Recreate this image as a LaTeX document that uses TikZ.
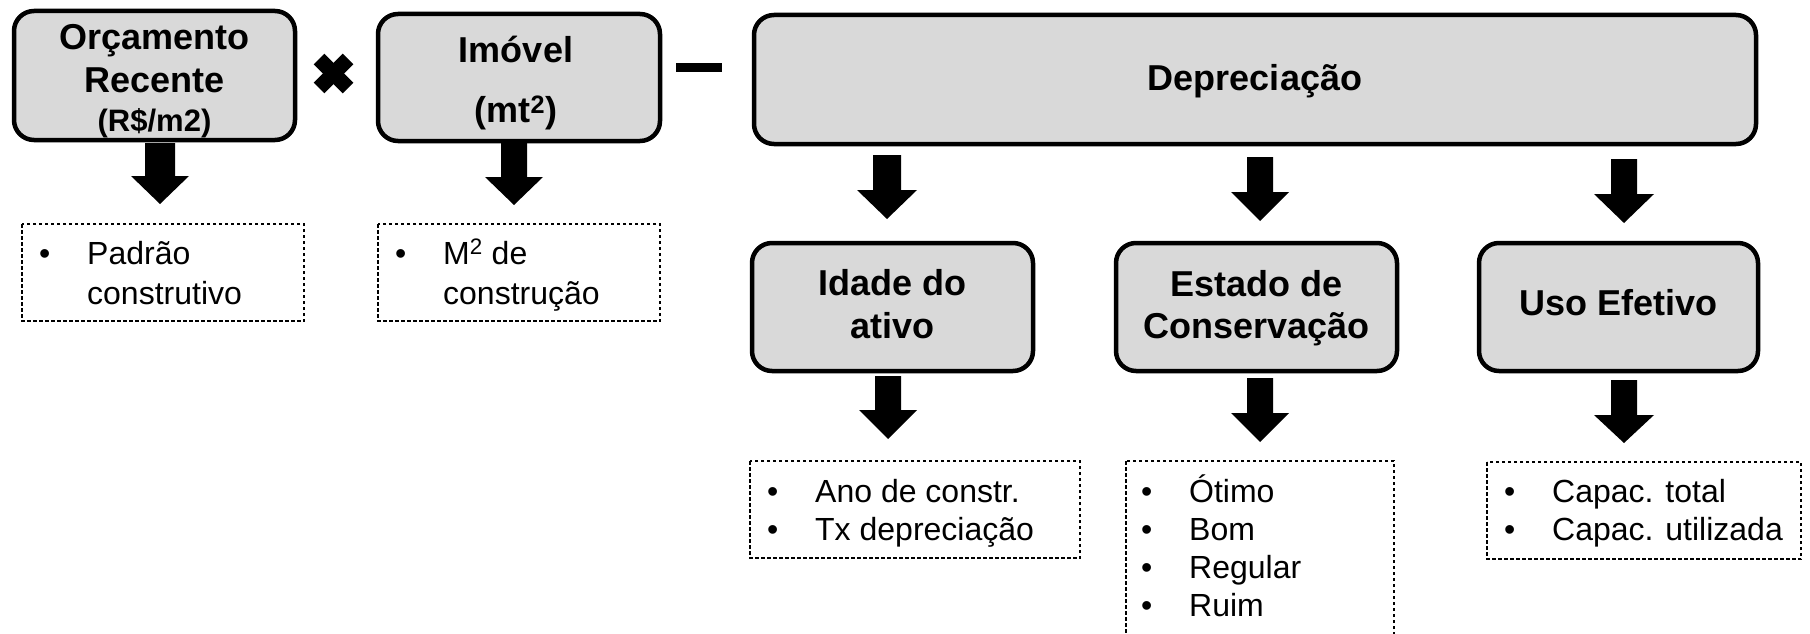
\documentclass[tikz,border=0pt]{standalone}
\usepackage{fontspec}
\setmainfont{Liberation Sans}
\definecolor{boxgray}{HTML}{D9D9D9}
\newcommand\bul{\makebox[48pt][l]{•}}
\newcommand\nobul{\makebox[48pt][l]{}}
\newcommand\blkarrow[6]{\fill (#1-#5,#2) -- (#1+#5,#2) -- (#1+#5,#3) -- (#1+#6,#3) -- (#1,#4) -- (#1-#6,#3) -- (#1-#5,#3) -- cycle;}
\tikzset{
  box/.style={draw=black, line width=4.5pt, fill=boxgray, rounded corners=20pt, inner sep=0pt},
  dbox/.style={draw=black, line width=1.5pt, dash pattern=on 3.5pt off 2.5pt, inner sep=0pt},
  ttl/.style={font=\fontsize{36}{39}\selectfont\bfseries, inner sep=0pt, anchor=base},
  lstA/.style={font=\fontsize{32}{40}\selectfont, inner sep=0pt, anchor=base west},
  lstB/.style={font=\fontsize{32}{38}\selectfont, inner sep=0pt, anchor=base west},
}
\begin{document}
\begin{tikzpicture}[x=1pt, y=-1pt]
\useasboundingbox (0,0) rectangle (1810,634);
\clip (0,0) rectangle (1810,634);
% top row boxes
\node[box, minimum width=281pt, minimum height=129pt] (orc) at (154.5,75.5) {};
\node[box, minimum width=282pt, minimum height=127pt] (imo) at (519,77.5) {};
\node[box, minimum width=1002pt, minimum height=129pt] (dep) at (1255,79.5) {};
\node[ttl] (orct) at (154.5,50) {\begin{tabular}[t]{@{}c@{}}Orçamento\\[4pt]Recente\\{\fontsize{31}{39}\selectfont (R\$/m2)}\end{tabular}};
\node[ttl] (imot) at (516,63) {\begin{tabular}[t]{@{}c@{}}Imóvel\\[21pt](mt\textsuperscript{2})\end{tabular}};
\node[ttl] (dept) at (1255,90) {Depreciação};
% operators
\draw[line width=15pt] (319,59) -- (348,88);
\draw[line width=15pt] (348,59) -- (319,88);
\fill (676,63) rectangle (722,72);
% second row boxes
\node[box, minimum width=281pt, minimum height=128pt] (ida) at (892.5,307) {};
\node[box, minimum width=281pt, minimum height=128pt] (est) at (1256.5,307) {};
\node[box, minimum width=279pt, minimum height=128pt] (uso) at (1618.5,307) {};
\node[ttl] (idat) at (892.5,295) {\begin{tabular}[t]{@{}c@{}}Idade do\\[4pt]ativo\end{tabular}};
\node[ttl] (estt) at (1256.5,296) {\begin{tabular}[t]{@{}c@{}}Estado de\\[3pt]Conservação\end{tabular}};
\node[ttl] (usot) at (1618.5,315) {Uso Efetivo};
% block arrows
\blkarrow{160}{143}{176}{204}{15}{29}
\blkarrow{514}{143}{177}{205}{13}{29}
\blkarrow{887}{155}{190}{219}{14}{30}
\blkarrow{1260}{157}{192}{221}{13}{29}
\blkarrow{1624}{159}{194}{223}{13}{30}
\blkarrow{888}{376}{410}{439}{13}{29}
\blkarrow{1260}{378}{413}{442}{13}{29}
\blkarrow{1624}{380}{415}{443}{13}{30}
% dashed boxes
\draw[dbox] (22,224) rectangle (304,321);
\draw[dbox] (378,224) rectangle (660,321);
\draw[dbox] (750,461) rectangle (1080,558);
\draw[dbox] (1126,461) rectangle (1394,660);
\draw[dbox] (1487,462) rectangle (1801,559);
\node[lstA] (l1) at (39,264) {\begin{tabular}[t]{@{}l@{}}\bul Padrão\\\nobul construtivo\end{tabular}};
\node[lstA] (l2) at (395,264) {\begin{tabular}[t]{@{}l@{}}\bul M\textsuperscript{2} de\\\nobul construção\end{tabular}};
\node[lstB] (l3) at (767,502) {\begin{tabular}[t]{@{}l@{}}\bul Ano de constr.\\\bul Tx depreciação\end{tabular}};
\node[lstB] (l4) at (1141,502) {\begin{tabular}[t]{@{}l@{}}\bul Ótimo\\\bul Bom\\\bul Regular\\\bul Ruim\end{tabular}};
\node[lstB] (l5) at (1504,502) {\begin{tabular}[t]{@{}l@{}}\bul Capac. total\\\bul Capac. utilizada\end{tabular}};
\end{tikzpicture}
\end{document}
